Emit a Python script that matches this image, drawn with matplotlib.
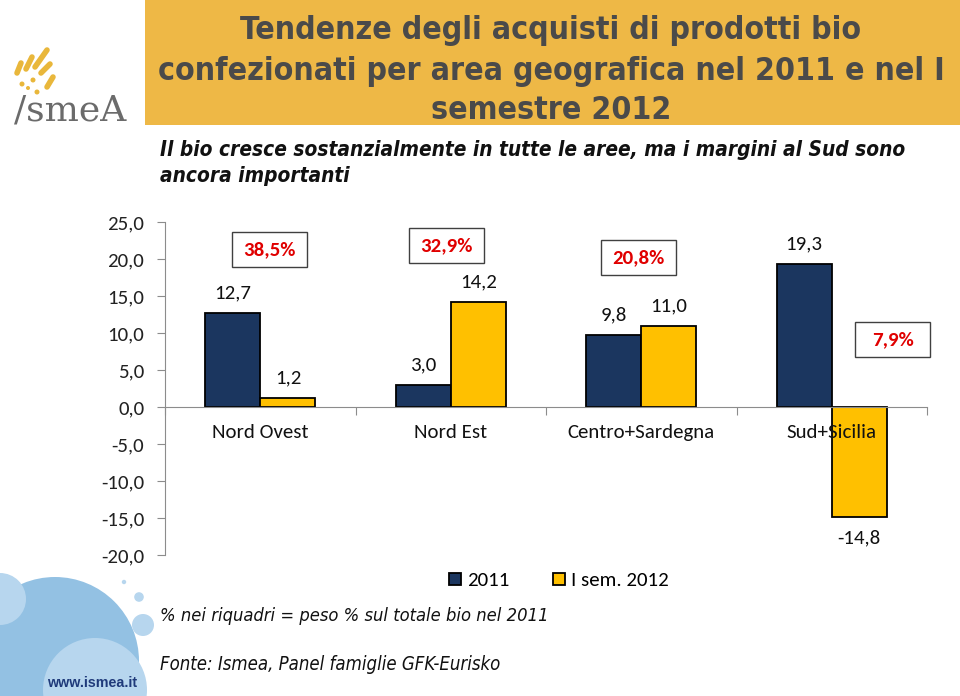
import os
import matplotlib
matplotlib.use("Agg")
import matplotlib.pyplot as plt
from matplotlib import font_manager
from matplotlib.patches import Rectangle, Ellipse
from matplotlib.lines import Line2D

# ---------------- data ----------------
categories = ["Nord Ovest", "Nord Est", "Centro+Sardegna", "Sud+Sicilia"]
series_names = ["2011", "I sem. 2012"]
values_2011 = [12.7, 3.0, 9.8, 19.3]
values_2012 = [1.2, 14.2, 11.0, -14.8]
share_labels = ["38,5%", "32,9%", "20,8%", "7,9%"]
y_ticks = [-20, -15, -10, -5, 0, 5, 10, 15, 20, 25]

title_lines = ["Tendenze degli acquisti di prodotti bio",
               "confezionati per area geografica nel 2011 e nel I",
               "semestre 2012"]
subtitle_lines = ["Il bio cresce sostanzialmente in tutte le aree, ma i margini al Sud sono",
                  "ancora importanti"]
note_text = "% nei riquadri = peso % sul totale bio nel 2011"
source_text = "Fonte: Ismea, Panel famiglie GFK-Eurisko"
site_text = "www.ismea.it"

# ---------------- fonts ----------------
def pick(*fams):
    for f in fams:
        try:
            font_manager.findfont(font_manager.FontProperties(family=f), fallback_to_default=False)
            return f
        except Exception:
            continue
    return "DejaVu Sans"

def find_file(*names):
    files = {os.path.basename(e.fname): e.fname for e in font_manager.fontManager.ttflist}
    for n in names:
        if n in files:
            return files[n]
    return None

AX_FONT = pick("Carlito", "Lato", "Noto Sans")

def fprops(fname_candidates, family, weight="normal", style="normal", stretch="normal"):
    p = find_file(*fname_candidates)
    if p:
        return dict(fontproperties=font_manager.FontProperties(fname=p))
    return dict(family=family, fontweight=weight, style=style, fontstretch=stretch)

TITLE_P = fprops(["LiberationSansNarrow-Bold.ttf", "DejaVuSansCondensed-Bold.ttf"],
                 "DejaVu Sans", weight="bold")
SUB_P = fprops(["DejaVuSansCondensed-BoldOblique.ttf"], "DejaVu Sans", weight="bold",
               style="italic")
NOTE_P = fprops(["DejaVuSansCondensed-Oblique.ttf"], "DejaVu Sans", style="italic")

W, H = 960, 696
fig = plt.figure(figsize=(W / 100, H / 100), dpi=100)
fig.patch.set_facecolor("white")

def fx(px):
    return px / W

def fy(py):
    return 1 - py / H

NAVY = "#1B365F"
GOLD = "#FFC000"
FS = 15

# ---------------- chart ----------------
ax = fig.add_axes([fx(165), fy(555.3), fx(927) - fx(165), fy(222) - fy(555.3)])
ax.set_axisbelow(False)
x = list(range(len(categories)))
bw = 0.29
b1 = ax.bar([i - bw / 2 for i in x], values_2011, width=bw, color=NAVY,
            edgecolor="black", linewidth=1.3, label=series_names[0], zorder=2)
b2 = ax.bar([i + bw / 2 for i in x], values_2012, width=bw, color=GOLD,
            edgecolor="black", linewidth=1.3, label=series_names[1], zorder=2)

ax.set_xlim(-0.5, 3.5)
ax.set_ylim(-20, 25)
ax.set_yticks(y_ticks)
ax.set_yticklabels([f"{v:.1f}".replace(".", ",") for v in y_ticks],
                   fontsize=FS, family=AX_FONT, color="#222222")
for s in ["top", "right"]:
    ax.spines[s].set_visible(False)
ax.spines["left"].set_color("#8c8c8c")
ax.spines["bottom"].set_color("#8c8c8c")
ax.spines["bottom"].set_position(("data", 0))
ax.tick_params(axis="y", direction="out", length=6, color="#8c8c8c", pad=9)
ax.set_xticks([-0.5, 0.5, 1.5, 2.5, 3.5])
ax.set_xticklabels([])
ax.tick_params(axis="x", which="major", direction="out", length=6, color="#8c8c8c")
ax.set_xticks(x, minor=True)
ax.set_xticklabels(categories, minor=True, fontsize=FS, family=AX_FONT, color="#111111")
ax.tick_params(axis="x", which="minor", length=0, pad=12)
ax.set_facecolor("none")

def fmt(v):
    return f"{v:.1f}".replace(".", ",")

for bars, vals in ((b1, values_2011), (b2, values_2012)):
    for r, v in zip(bars, vals):
        xc = r.get_x() + r.get_width() / 2
        if v >= 0:
            ax.annotate(fmt(v), (xc, v), xytext=(0, 14.5), textcoords="offset points",
                        ha="center", va="center", fontsize=FS, family=AX_FONT, color="#111111")
        else:
            ax.annotate(fmt(v), (xc, v), xytext=(0, -15.5), textcoords="offset points",
                        ha="center", va="center", fontsize=FS, family=AX_FONT, color="#111111")

# share boxes (category-offset, y position)
box_pos = [(0.05, 21.25), (0.976, 21.8), (1.984, 20.2), (3.32, 9.1)]
bwid = 75 / 190.5
bhei = 35 / 7.4
for (bx, by), lab in zip(box_pos, share_labels):
    ax.add_patch(Rectangle((bx - bwid / 2, by - bhei / 2), bwid, bhei, facecolor="white",
                           edgecolor="#404040", linewidth=1.0, zorder=4, clip_on=False))
    ax.text(bx, by, lab, ha="center", va="center", fontsize=FS, fontweight="bold",
            family=AX_FONT, color="#E00000", zorder=5)

leg = fig.legend(handles=[b1, b2], labels=series_names, loc="center",
                 bbox_to_anchor=(fx(559), fy(581)), ncol=2, frameon=False,
                 handlelength=0.55, handleheight=0.55, handletextpad=0.3,
                 columnspacing=2.1, prop={"family": AX_FONT, "size": FS})

# ---------------- header ----------------
fig.patches.append(Rectangle((fx(145), fy(125)), 1 - fx(145), fy(0) - fy(125),
                             transform=fig.transFigure, facecolor="#EEB846",
                             edgecolor="none", zorder=0))

title_objs = []
for line, base in zip(title_lines, [39, 80, 119]):
    t = fig.text(fx(551), fy(base), line, ha="center", va="baseline", fontsize=24,
                 color="#4A4A4A", **TITLE_P)
    title_objs.append(t)

sub_objs = []
for line, yc in zip(subtitle_lines, [150, 176]):
    t = fig.text(fx(160), fy(yc), line, ha="left", va="center", fontsize=14,
                 color="#111111", **SUB_P)
    sub_objs.append(t)

note = fig.text(fx(160), fy(616), note_text, ha="left", va="center", fontsize=12,
                color="#111111", **NOTE_P)
src = fig.text(fx(160), fy(665), source_text, ha="left", va="center", fontsize=12,
               color="#111111", **NOTE_P)

fig.canvas.draw()
rend = fig.canvas.get_renderer()

def fit(t, target):
    w = t.get_window_extent(rend).width
    t.set_fontsize(t.get_fontsize() * target / w)

fit(title_objs[1], 787)
for t in title_objs:
    t.set_fontsize(title_objs[1].get_fontsize())
fit(sub_objs[0], 748)
sub_objs[1].set_fontsize(sub_objs[0].get_fontsize())
fit(note, 388)
fit(src, 340)

# ---------------- logo (top-left) ----------------
logo_gold = "#E9B73B"
strokes = [((17, 73), (21, 63)), ((26, 69), (32, 57)), ((35, 67), (47, 50)),
           ((41, 73), (50, 64)), ((47, 87), (53, 77))]
for (x0, y0), (x1, y1) in strokes:
    fig.add_artist(Line2D([fx(x0), fx(x1)], [fy(y0), fy(y1)], transform=fig.transFigure,
                          color=logo_gold, linewidth=4, solid_capstyle="round"))

def circ(cx, cy, r, col, z=0):
    fig.add_artist(Ellipse((fx(cx), fy(cy)), 2 * r / W, 2 * r / H, transform=fig.transFigure,
                           facecolor=col, edgecolor="none", zorder=z))

for (cx, cy, r) in [(22, 84, 2.5), (33, 80, 2.5), (37, 92, 2.5), (28, 88, 2)]:
    circ(cx, cy, r, logo_gold, 1)
fig.text(fx(14), fy(120), "/smeA", ha="left", va="baseline", fontsize=26,
         family="DejaVu Serif", color="#6B6B6B")

# ---------------- bottom-left decoration ----------------
circ(55, 661, 84, "#93C1E3")
circ(0, 599, 26, "#B7D6EE")
circ(95, 690, 52, "#B7D6EE")
circ(124, 582, 2.2, "#B7D6EE")
circ(139, 597, 4.8, "#B7D6EE")
circ(143, 625, 11, "#B7D6EE")
fig.text(fx(92), fy(683), site_text, ha="center", va="center", fontsize=10.3,
         fontweight="bold", family="Liberation Sans", color="#1F3A7A")

fig.savefig("out.png", dpi=100, facecolor="white")
